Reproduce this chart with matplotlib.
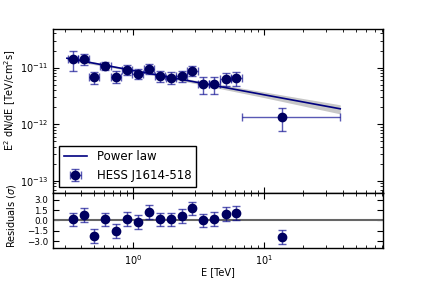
import matplotlib
matplotlib.use("Agg")
import matplotlib.pyplot as plt
import numpy as np

# Flux points (TeV, TeV/cm^2/s)
energy = [0.348, 0.419, 0.505, 0.616, 0.743, 0.900, 1.086, 1.323, 1.604,
          1.945, 2.358, 2.844, 3.449, 4.182, 5.095, 6.146, 13.75]
e_low = [0.317, 0.382, 0.460, 0.561, 0.677, 0.820, 0.989, 1.205, 1.461,
         1.771, 2.148, 2.590, 3.141, 3.809, 4.640, 5.597, 6.83]
e_high = [0.382, 0.460, 0.554, 0.677, 0.816, 0.989, 1.193, 1.453, 1.761,
          2.136, 2.589, 3.123, 3.787, 4.592, 5.594, 6.749, 38.2]
flux = [1.41e-11, 1.42e-11, 6.8e-12, 1.08e-11, 6.94e-12, 9.2e-12, 7.84e-12,
        9.6e-12, 7.14e-12, 6.67e-12, 7.14e-12, 8.74e-12, 5.09e-12, 5.15e-12,
        6.4e-12, 6.5e-12, 1.35e-12]
flux_err = [5.5e-12, 3.0e-12, 1.7e-12, 1.7e-12, 1.6e-12, 1.8e-12, 1.6e-12,
            1.9e-12, 1.6e-12, 1.6e-12, 1.6e-12, 1.7e-12, 1.67e-12, 1.67e-12,
            1.64e-12, 1.8e-12, 6.0e-13]
residuals = [0.15, 0.77, -2.29, 0.15, -1.56, 0.23, -0.25, 1.21, 0.15, 0.15,
             0.67, 1.75, 0.0, 0.19, 0.96, 1.1, -2.43]

# Power-law model and its uncertainty band, read at a few energies
model_e = [0.313, 1.0, 3.0, 10.0, 38.2]
model_flux = [1.46e-11, 8.89e-12, 5.55e-12, 3.31e-12, 1.87e-12]
band_lo = [1.36e-11, 8.6e-12, 5.2e-12, 2.95e-12, 1.52e-12]
band_hi = [1.57e-11, 9.2e-12, 5.95e-12, 3.72e-12, 2.2e-12]

res_ticks = [-3.0, -1.5, 0.0, 1.5, 3.0]
res_ticklabels = ["\u22123.0", "\u22121.5", "0.0", "1.5", "3.0"]

plt.rcParams["font.family"] = "DejaVu Sans"
plt.rcParams["xtick.direction"] = "in"
plt.rcParams["ytick.direction"] = "in"
plt.rcParams["xtick.top"] = True
plt.rcParams["ytick.right"] = True
plt.rcParams["xtick.major.size"] = 4
plt.rcParams["ytick.major.size"] = 4
plt.rcParams["xtick.minor.size"] = 2
plt.rcParams["ytick.minor.size"] = 2
plt.rcParams["xtick.labelsize"] = 7
plt.rcParams["ytick.labelsize"] = 7

fig = plt.figure(figsize=(4.26, 2.84), dpi=100)
ax = fig.add_axes([0.1244, 0.3204, 0.7746, 0.5776])
ax_res = fig.add_axes([0.1244, 0.1268, 0.7746, 0.1936], sharex=ax)

energy = np.array(energy)
xerr = [energy - np.array(e_low), np.array(e_high) - energy]
ecol = (0.0, 0.0, 0.55, 0.65)

# top panel: flux points + model
ax.fill_between(model_e, band_lo, band_hi, color="0.6", alpha=0.55, lw=0)
ax.plot(model_e, model_flux, color="navy", lw=1.2, label="Power law")
ax.errorbar(energy, flux, yerr=flux_err, xerr=xerr, fmt="o", color="#000060",
            ecolor=ecol, ms=6, capsize=3, elinewidth=1, capthick=1,
            label="HESS J1614-518")
ax.set_xscale("log")
ax.set_yscale("log")
ax.set_xlim(0.245, 81)
ax.set_ylim(6.1e-14, 4.8e-11)
ax.set_ylabel("E$^2$ dN/dE [TeV/cm$^2$s]", fontsize=7)
ax.yaxis.set_label_coords(-0.105, 0.567)
ax.tick_params(labelbottom=False)
leg = ax.legend(loc="lower left", fontsize=8.5, fancybox=False, framealpha=1,
                edgecolor="black", numpoints=1)
leg.get_frame().set_linewidth(1)

# bottom panel: residuals
ax_res.axhline(0, color="0.4", lw=1.5)
ax_res.errorbar(energy, residuals, yerr=1, fmt="o", color="#000060",
                ecolor=ecol, ms=6, capsize=3, elinewidth=1, capthick=1)
ax_res.set_ylim(-4, 4)
ax_res.set_yticks(res_ticks)
ax_res.set_yticklabels(res_ticklabels, fontsize=6.3)
ax_res.set_ylabel("Residuals ($\\sigma$)", fontsize=7)
ax_res.yaxis.set_label_coords(-0.105, 0.58)
ax_res.set_xlabel("E [TeV]", fontsize=7)
ax_res.xaxis.set_label_coords(0.5, -0.34)

for a in (ax, ax_res):
    for s in a.spines.values():
        s.set_linewidth(1)

fig.savefig("out.png", dpi=100)
